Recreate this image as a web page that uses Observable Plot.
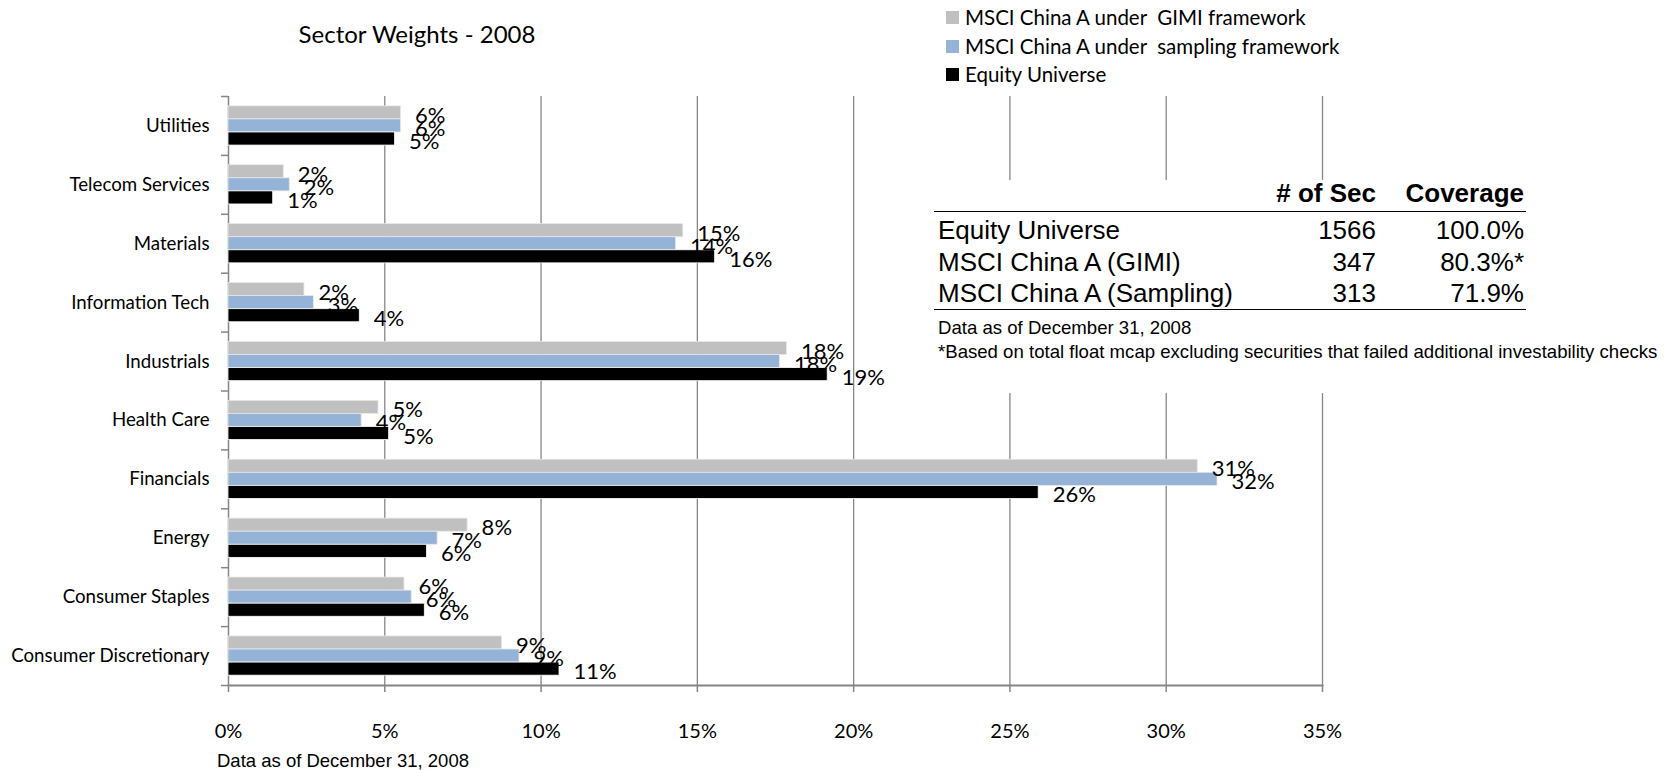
<!DOCTYPE html>
<html><head><meta charset="utf-8">
<script src="https://cdn.jsdelivr.net/npm/d3@7"></script>
<script src="https://cdn.jsdelivr.net/npm/@observablehq/plot@0.6"></script>
<style>
body{margin:0;background:#fff;}
#wrap{position:relative;width:1665px;height:770px;overflow:hidden;font-family:Lato,"Open Sans",sans-serif;background:#fff;}
#chart{position:absolute;left:0;top:0;}
.t{position:absolute;white-space:nowrap;line-height:30px;height:30px;}
.a{font-family:"Liberation Sans",Arial,sans-serif;}
.sq{position:absolute;width:13px;height:13px;}
.hl{position:absolute;height:0;border-top:1.5px solid #000;}
</style></head><body>
<div id="wrap"><div id="chart"></div><div id="over"></div></div>
<script>
// ---- data ----
const sectors = ["Utilities","Telecom Services","Materials","Information Tech","Industrials","Health Care","Financials","Energy","Consumer Staples","Consumer Discretionary"];
const gimi     = [5.52, 1.77, 14.55, 2.43, 17.87, 4.80, 31.01, 7.65, 5.63, 8.75];
const sampling = [5.52, 1.96, 14.32, 2.73, 17.64, 4.26, 31.64, 6.69, 5.86, 9.31];
const universe = [5.33, 1.43, 15.57, 4.20, 19.17, 5.14, 25.92, 6.35, 6.28, 10.59];
const seriesNames = ["MSCI China A under  GIMI framework","MSCI China A under  sampling framework","Equity Universe"];
const seriesColors = ["#C0C0C0","#95B3D7","#000000"];
const xTicks = [0,5,10,15,20,25,30,35];
const tableRows = ["Equity Universe","MSCI China A (GIMI)","MSCI China A (Sampling)"];
const secCounts = [1566, 347, 313];
const coverage = ["100.0%","80.3%*","71.9%"];
const title = "Sector Weights - 2008";
const dateNote = "Data as of December 31, 2008";
const footNote = "*Based on total float mcap excluding securities that failed additional investability checks";

// ---- chart ----
const W = 1665, H = 770, mt = 96, mb = 85, ml = 228, mr = 343;
const step = (H - mt - mb) / sectors.length;
const barH = 0.222 * step, pad = (step - 3 * barH) / 2;
const pxPerUnit = (W - ml - mr) / 35;
const keys = ["gimi","sampling","universe"];
const rows = sectors.map((s, i) => ({sector: s, gimi: gimi[i], sampling: sampling[i], universe: universe[i]}));
const grey = "#868686";

const marks = [
  Plot.gridX(xTicks.slice(1), {stroke: grey, strokeOpacity: 1, strokeWidth: 1.3}),
  Plot.ruleX([0], {stroke: grey, strokeWidth: 1.5}),
  Plot.frame({anchor: "bottom", stroke: grey, strokeWidth: 2}),
  Plot.ruleY(sectors, {y: d => d, x1: 0, x2: -7 / pxPerUnit, dy: step / 2, stroke: grey, strokeWidth: 1.5}),
  Plot.ruleY(sectors.slice(0, 1), {y: d => d, x1: 0, x2: -7 / pxPerUnit, dy: -step / 2, stroke: grey, strokeWidth: 1.5}),
];
keys.forEach((k, j) => {
  marks.push(Plot.barX(rows, {x: k, y: "sector", fill: seriesColors[j], stroke: j === 2 ? "#fff" : "#e8e8e8", strokeWidth: 0.8,
    insetTop: pad + j * barH, insetBottom: step - pad - (j + 1) * barH}));
});
keys.forEach((k, j) => {
  marks.push(Plot.text(rows, {x: k, y: "sector", text: d => Math.round(d[k]) + "%", dx: 14,
    dy: pad + (j + 0.5) * barH - step / 2 + 3, textAnchor: "start", fontSize: 22, fill: "#000"}));
});
marks.push(Plot.axisY({tickSize: 0, tickPadding: 19, fontSize: 18.7, fill: "#000", label: null}));
marks.push(Plot.axisX(xTicks, {tickSize: 7, tickPadding: 31, fontSize: 20, stroke: grey, strokeWidth: 1.5, fill: "#000", tickFormat: d => d + "%", label: null}));

const chart = Plot.plot({
  width: W, height: H, marginTop: mt, marginBottom: mb, marginLeft: ml, marginRight: mr,
  style: {fontFamily: "Lato, sans-serif", background: "#fff", overflow: "visible"},
  x: {domain: [0, 35], axis: null, label: null},
  y: {domain: sectors, padding: 0, round: false, axis: null, label: null},
  marks
});
document.getElementById("chart").appendChild(chart);

// ---- overlays: title, legend, table, notes ----
const over = document.getElementById("over");
function add(html, style, cls = "t") {
  const d = document.createElement("div");
  d.className = cls; d.innerHTML = html; Object.assign(d.style, style); over.appendChild(d); return d;
}
add(title, {left: "0px", width: "834px", textAlign: "center", top: (34 - 15) + "px", fontSize: "24px"});
const legY = [17, 46, 74];
seriesNames.forEach((n, i) => {
  add("", {left: "946px", top: (legY[i] - 6.5) + "px", background: seriesColors[i]}, "sq");
  add(n.replace(/  /g, " &nbsp;"), {left: "965px", top: (legY[i] - 15) + "px", fontSize: "20.5px"});
});
// white table box
add("", {left: "924px", top: "180px", width: "741px", height: "213px", background: "#fff", lineHeight: "0"});
add("# of Sec", {right: "289px", top: (193 - 15) + "px", fontSize: "26px", fontWeight: "bold"}, "t a");
add("Coverage", {right: "141px", top: (193 - 15) + "px", fontSize: "26px", fontWeight: "bold"}, "t a");
add("", {left: "934px", top: "211px", width: "592px"}, "hl");
const rowY = [230, 262, 293];
tableRows.forEach((r, i) => {
  add(r, {left: "938px", top: (rowY[i] - 15) + "px", fontSize: "26px"}, "t a");
  add(String(secCounts[i]), {right: "289px", top: (rowY[i] - 15) + "px", fontSize: "26px"}, "t a");
  add(coverage[i], {right: "141px", top: (rowY[i] - 15) + "px", fontSize: "26px"}, "t a");
});
add("", {left: "934px", top: "309px", width: "592px"}, "hl");
add(dateNote, {left: "938px", top: (328 - 15) + "px", fontSize: "18.6px"}, "t a");
add(footNote, {left: "938px", top: (352 - 15) + "px", fontSize: "18.6px"}, "t a");
add(dateNote, {left: "217px", top: (761 - 15) + "px", fontSize: "18.5px"}, "t a");
</script>
</body></html>
